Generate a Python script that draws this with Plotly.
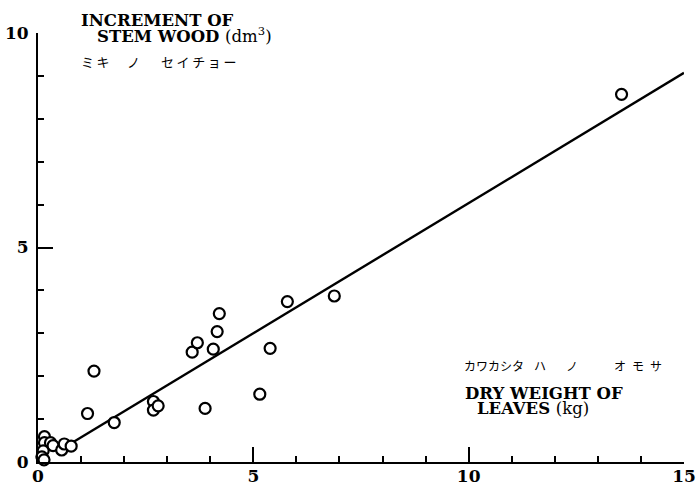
import plotly.graph_objects as go

# Dry weight of leaves (kg) vs. increment of stem wood (dm3) per tree
leaf_dry_weight = [0.15, 0.15, 0.29, 0.35, 0.12, 0.09, 0.14, 0.55, 0.61, 0.77,
                   1.15, 1.30, 1.77, 2.68, 2.68, 2.79, 3.58, 3.70, 3.88, 4.07,
                   4.16, 4.21, 5.15, 5.39, 5.79, 6.88, 13.55]
stem_increment = [0.59, 0.45, 0.45, 0.38, 0.26, 0.12, 0.05, 0.28, 0.42, 0.37,
                  1.13, 2.12, 0.92, 1.41, 1.21, 1.31, 2.56, 2.78, 1.25, 2.63,
                  3.04, 3.46, 1.58, 2.65, 3.74, 3.87, 8.57]

# Fitted straight line (end points)
fit_x = [0.6, 15.0]
fit_y = [0.33, 9.07]

x_ticks = [0, 5, 10, 15]
y_ticks = [0, 5, 10]

W, H = 697, 493
L, R, T, B = 38, 13, 33, 31
pw, ph = W - L - R, H - T - B


def px(xp):
    return (xp - L) / pw


def py(yp):
    return (H - B - yp) / ph


fig = go.Figure()
fig.add_trace(go.Scatter(
    x=fit_x, y=fit_y, mode="lines",
    line=dict(color="black", width=2.4),
    hoverinfo="skip", showlegend=False,
))
fig.add_trace(go.Scatter(
    x=leaf_dry_weight, y=stem_increment, mode="markers",
    marker=dict(symbol="circle", size=11, color="white",
                line=dict(color="black", width=2.2)),
    cliponaxis=False, showlegend=False,
))

serif_bold = dict(family="DejaVu Serif", size=16.5, color="black", weight="bold")
tick_font = dict(family="DejaVu Serif", size=17, color="black")
jp = dict(family="Noto Sans CJK JP", size=12, color="black")
jp_top = dict(family="Noto Sans CJK JP", size=13, color="black")

axis_common = dict(
    showline=True, linecolor="black", linewidth=2,
    showgrid=False, zeroline=False,
    ticks="inside", ticklen=15, tickwidth=2, tickcolor="black",
    tickfont=tick_font,
    minor=dict(dtick=1, ticks="inside", ticklen=6, tickwidth=1.5,
               tickcolor="black", showgrid=False),
)

fig.update_xaxes(range=[0, 15], tickvals=x_ticks,
                 ticktext=[f"<b>{v}</b>" for v in x_ticks],
                 ticklabelstandoff=-2, **axis_common)
fig.update_yaxes(range=[0, 10], tickvals=y_ticks,
                 ticktext=[f"<b>{v}</b>" for v in y_ticks],
                 ticklabelstandoff=4, **axis_common)

ts = "\u2009"
annotations = [
    dict(text="INCREMENT OF", x=px(79), y=py(20), font=serif_bold),
    dict(text="STEM WOOD <span style='font-weight:normal'>(dm<sup>3</sup>)</span>",
         x=px(95), y=py(35), font=serif_bold),
    dict(text="ミ" + ts + "キ", x=px(79), y=py(61), font=jp_top),
    dict(text="ノ", x=px(125), y=py(61), font=jp_top),
    dict(text=ts.join("セイチョー"), x=px(159), y=py(61), font=jp_top),
    dict(text="カワカシタ", x=px(462), y=py(365), font=jp),
    dict(text="ハ", x=px(532), y=py(365), font=jp),
    dict(text="ノ", x=px(564), y=py(365), font=jp),
    dict(text="オ\u2002モ\u2002サ", x=px(612), y=py(365), font=jp),
    dict(text="DRY WEIGHT OF", x=px(463), y=py(393), font=serif_bold),
    dict(text="LEAVES <span style='font-weight:normal'>(kg)</span>",
         x=px(475), y=py(408), font=serif_bold),
]
for a in annotations:
    a.update(xref="paper", yref="paper", xanchor="left", yanchor="middle",
             showarrow=False)

fig.update_layout(
    width=W, height=H,
    margin=dict(l=L, r=R, t=T, b=B, autoexpand=False),
    paper_bgcolor="white", plot_bgcolor="white",
    annotations=annotations,
    showlegend=False,
)

fig.write_html("out.html")
